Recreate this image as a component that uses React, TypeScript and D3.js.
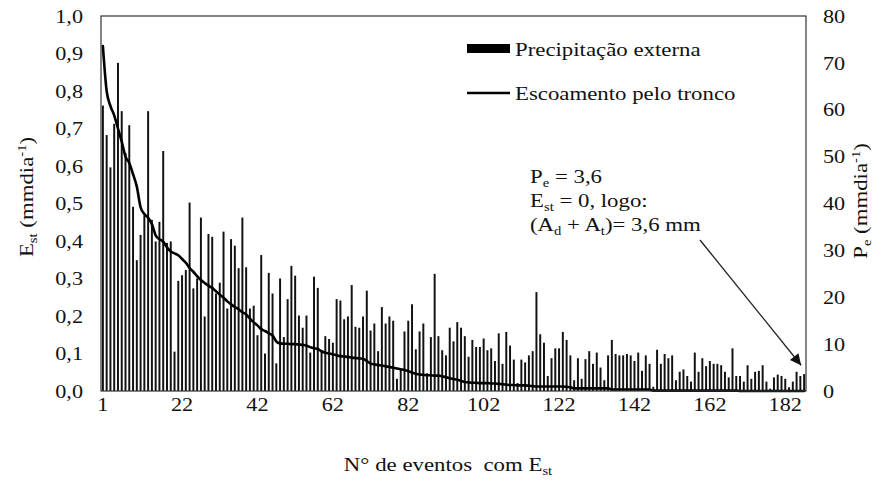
import React from "react";
import * as d3 from "d3";

// Precipitação externa (Pe, mm dia-1) per event, right axis
const precipitation = [
  60.9, 54.6, 47.7, 57.0, 70.0, 59.7, 50.8, 56.7, 39.3, 27.9,
  33.3, 37.5, 59.7, 36.5, 31.9, 36.1, 51.2, 31.6, 31.9, 8.4,
  23.5, 24.7, 25.8, 40.2, 21.9, 24.0, 37.0, 15.9, 33.5, 32.9,
  20.8, 23.1, 34.0, 17.6, 32.4, 31.0, 26.2, 37.0, 26.4, 17.6,
  18.2, 11.9, 29.0, 8.0, 25.2, 20.8, 5.9, 24.0, 11.5, 19.6,
  26.7, 24.6, 16.1, 13.5, 16.1, 8.2, 24.4, 22.0, 8.6, 11.7,
  11.1, 10.3, 19.6, 19.3, 15.3, 15.9, 22.6, 13.7, 13.5, 15.9,
  21.4, 12.9, 14.4, 8.5, 17.9, 14.4, 15.9, 15.0, 2.6, 4.5,
  12.7, 15.0, 18.5, 8.9, 12.7, 14.4, 3.8, 11.5, 25.0, 11.7,
  8.7, 7.6, 13.5, 10.6, 14.7, 13.5, 11.7, 7.3, 10.9, 9.4,
  9.4, 11.2, 8.7, 9.1, 6.4, 12.3, 5.8, 12.6, 9.7, 6.7,
  1.7, 6.7, 6.1, 7.6, 8.5, 21.1, 12.1, 10.3, 3.2, 7.0,
  9.1, 9.1, 12.6, 10.9, 7.6, 2.3, 7.0, 2.6, 6.8, 8.5,
  5.8, 8.2, 5.0, 2.3, 7.6, 10.9, 7.9, 7.6, 7.6, 7.9,
  7.6, 6.4, 8.2, 4.3, 7.6, 5.8, 0.9, 8.8, 5.8, 7.9,
  7.0, 7.6, 2.3, 4.1, 4.6, 3.2, 2.0, 8.2, 4.1, 7.0,
  5.3, 6.4, 5.8, 5.8, 5.5, 4.1, 2.9, 9.1, 3.2, 3.2,
  2.0, 5.5, 2.6, 4.1, 4.3, 5.5, 2.0, 0.5, 2.9, 3.5,
  3.2, 2.6, 0.8, 2.0, 4.1, 3.2, 3.6,
];

// Escoamento pelo tronco (Est, mm dia-1) per event, left axis
const stemflow = [
  0.92, 0.8, 0.76, 0.735, 0.7, 0.665, 0.625, 0.608, 0.578, 0.545,
  0.49, 0.472, 0.462, 0.445, 0.415, 0.405, 0.398, 0.383, 0.372, 0.367,
  0.362, 0.352, 0.342, 0.328, 0.318, 0.306, 0.296, 0.288, 0.281, 0.275,
  0.266, 0.257, 0.249, 0.239, 0.231, 0.224, 0.218, 0.21, 0.204, 0.193,
  0.183, 0.175, 0.165, 0.16, 0.154, 0.148, 0.132, 0.127, 0.126, 0.126,
  0.125, 0.125, 0.124, 0.123, 0.121, 0.117, 0.114, 0.112, 0.106, 0.102,
  0.1, 0.098, 0.095, 0.093, 0.092, 0.091, 0.089, 0.088, 0.087, 0.086,
  0.08, 0.073, 0.071, 0.069, 0.068, 0.066, 0.064, 0.062, 0.06, 0.058,
  0.056, 0.053, 0.049, 0.046, 0.044, 0.043, 0.042, 0.042, 0.041, 0.041,
  0.039, 0.037, 0.034, 0.032, 0.03, 0.027, 0.024, 0.023, 0.022, 0.022,
  0.021, 0.021, 0.021, 0.02, 0.02, 0.019, 0.018, 0.017, 0.016, 0.016,
  0.015, 0.015, 0.015, 0.014, 0.013, 0.012, 0.012, 0.012, 0.012, 0.012,
  0.012, 0.012, 0.012, 0.011, 0.01, 0.007, 0.007, 0.007, 0.007, 0.007,
  0.007, 0.007, 0.007, 0.007, 0.007, 0.004, 0.004, 0.004, 0.004, 0.004,
  0.004, 0.004, 0.004, 0.004, 0.004, 0.004, 0.001, 0.001, 0.001, 0.001,
  0.001, 0.001, 0.001, 0.001, 0.001, 0.001, 0.001, 0.001, 0.001, 0.001,
  0.001, 0.001, 0.001, 0.001, 0.001, 0.001, 0.001, 0.001, 0.001, 0.0,
  0.0, 0.0, 0.0, 0.0, 0.0, 0.0, 0.0, 0.0, 0.0, 0.0,
  0.0, 0.0, 0.0, 0.0, 0.0, 0.0, 0.0,
];

const estTicks = [0, 0.1, 0.2, 0.3, 0.4, 0.5, 0.6, 0.7, 0.8, 0.9, 1.0];
const peTicks = [0, 10, 20, 30, 40, 50, 60, 70, 80];
const eventTicks = [1, 22, 42, 62, 82, 102, 122, 142, 162, 182];

const FONT = "Liberation Serif, DejaVu Serif, serif";
const SX = 1.17; // glyphs in the reference run wider than Times metrics

function SText(props: {
  x: number;
  y: number;
  anchor?: "start" | "middle" | "end";
  size?: number;
  rotate?: number;
  dy?: string;
  children: React.ReactNode;
}) {
  const { x, y, anchor = "start", size = 19.5, rotate = 0, dy, children } = props;
  return (
    <g transform={`translate(${x},${y}) rotate(${rotate}) scale(${SX},1)`}>
      <text
        x={0}
        y={0}
        dy={dy}
        textAnchor={anchor}
        fontSize={size}
        fill="#111"
        style={{ fontFamily: FONT }}
      >
        {children}
      </text>
    </g>
  );
}

export default function App() {
  const W = 884;
  const H = 483;
  const left = 101;
  const right = 806;
  const top = 16;
  const bottom = 391;

  const events = precipitation.map((_, i) => i + 1);
  const x = d3
    .scaleBand<number>()
    .domain(events)
    .range([left, right])
    .paddingInner(0.48)
    .paddingOuter(0.24);
  const cx = (e: number) => (x(e) as number) + x.bandwidth() / 2;
  const yL = d3.scaleLinear().domain([0, 1]).range([bottom, top]);
  const yR = d3.scaleLinear().domain([0, 80]).range([bottom, top]);

  const linePath = d3
    .line<number>()
    .x((_, i) => cx(i + 1))
    .y((d) => yL(d))
    .curve(d3.curveMonotoneX)(stemflow) as string;

  const fmt = (v: number) => v.toFixed(1).replace(".", ",");
  const lastE = events[events.length - 1];
  const sub = 12.5;

  return (
    <svg
      width={W}
      height={H}
      style={{ position: "absolute", left: 0, top: 0, background: "#fff", fontFamily: FONT }}
    >
      <defs>
        <marker
          id="arrowHead"
          viewBox="0 0 10 10"
          refX="10"
          refY="5"
          markerUnits="userSpaceOnUse"
          markerWidth="15"
          markerHeight="11"
          orient="auto"
        >
          <path d="M0,0 L10,5 L0,10 z" fill="#111" />
        </marker>
      </defs>

      {/* bars */}
      <g>
        {precipitation.map((v, i) => (
          <rect
            key={i}
            x={x(i + 1)}
            y={yR(v)}
            width={x.bandwidth()}
            height={bottom - yR(v)}
            fill="#111"
          />
        ))}
      </g>

      {/* line */}
      <path
        d={linePath}
        fill="none"
        stroke="#000"
        strokeWidth={2.6}
        strokeLinejoin="round"
        strokeLinecap="round"
      />

      {/* frame */}
      <rect
        x={left}
        y={top}
        width={right - left}
        height={bottom - top}
        fill="none"
        stroke="#333"
        strokeWidth={1.2}
      />

      {/* left ticks */}
      {estTicks.map((t) => (
        <SText key={"l" + t} x={83} y={yL(t)} dy="0.35em" anchor="end" size={19}>
          {fmt(t)}
        </SText>
      ))}
      {/* right ticks */}
      {peTicks.map((t) => (
        <SText key={"r" + t} x={823} y={yR(t)} dy="0.35em" anchor="start" size={19}>
          {String(t)}
        </SText>
      ))}
      {/* bottom ticks */}
      {eventTicks.map((t) => (
        <SText key={"b" + t} x={cx(t)} y={411} anchor="middle" size={19}>
          {String(t)}
        </SText>
      ))}

      {/* axis titles */}
      <SText x={33} y={197} rotate={-90} anchor="middle">
        E
        <tspan dy={4} fontSize={sub}>st</tspan>
        <tspan dy={-4}> (mmdia</tspan>
        <tspan dy={-7} fontSize={sub}>-1</tspan>
        <tspan dy={7}>)</tspan>
      </SText>
      <SText x={867} y={201} rotate={-90} anchor="middle">
        P
        <tspan dy={4} fontSize={sub}>e</tspan>
        <tspan dy={-4}> (mmdia</tspan>
        <tspan dy={-7} fontSize={sub}>-1</tspan>
        <tspan dy={7}>)</tspan>
      </SText>
      <SText x={448} y={471} anchor="middle">
        N° de eventos{"\u00A0\u00A0"}com E
        <tspan dy={4} fontSize={sub}>st</tspan>
      </SText>

      {/* legend */}
      <rect x={467} y={44} width={43} height={9} fill="#000" />
      <SText x={515} y={56}>Precipitação externa</SText>
      <line x1={467} x2={510} y1={93} y2={93} stroke="#000" strokeWidth={2.5} />
      <SText x={515} y={100}>Escoamento pelo tronco</SText>

      {/* annotation */}
      <SText x={530} y={183}>
        P<tspan dy={4} fontSize={sub}>e</tspan>
        <tspan dy={-4}> = 3,6</tspan>
      </SText>
      <SText x={530} y={207}>
        E<tspan dy={4} fontSize={sub}>st</tspan>
        <tspan dy={-4}> = 0, logo:</tspan>
      </SText>
      <SText x={530} y={231}>
        (A<tspan dy={4} fontSize={sub}>d</tspan>
        <tspan dy={-4}> + A</tspan>
        <tspan dy={4} fontSize={sub}>t</tspan>
        <tspan dy={-4}>)= 3,6 mm</tspan>
      </SText>
      <line
        x1={700}
        y1={240}
        x2={cx(lastE) - 3}
        y2={yR(5.5)}
        stroke="#222"
        strokeWidth={1.3}
        markerEnd="url(#arrowHead)"
      />
    </svg>
  );
}
